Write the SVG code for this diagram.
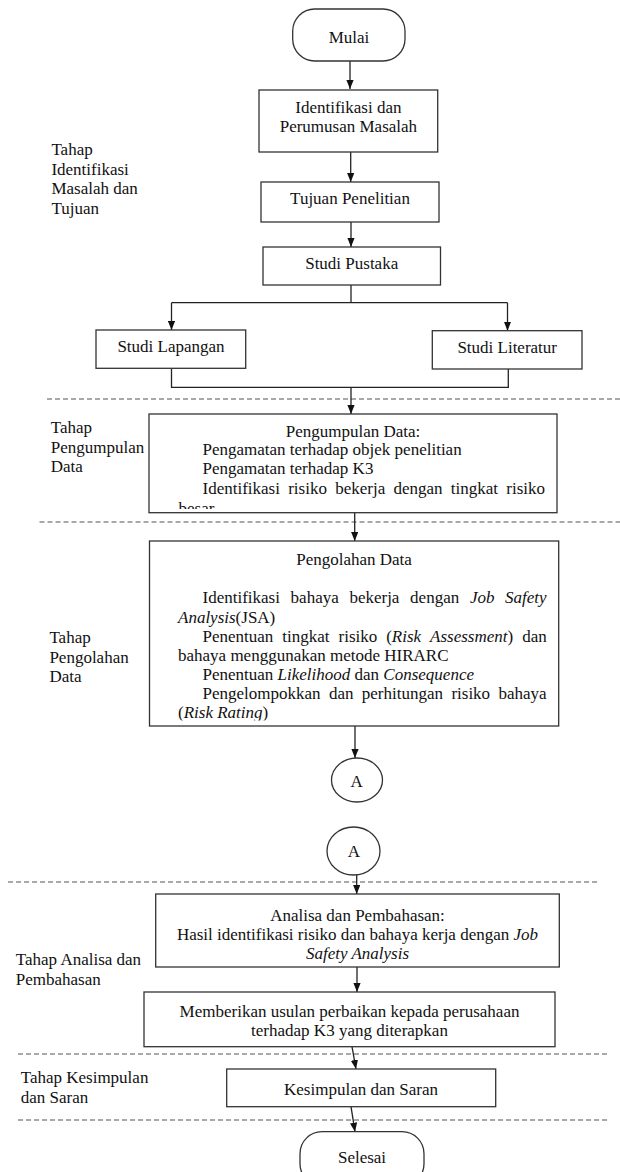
<svg xmlns="http://www.w3.org/2000/svg" width="620" height="1172" viewBox="0 0 620 1172">
<style>
  .bg{fill:#ffffff}
  .box{fill:#ffffff;stroke:#333333;stroke-width:1.3}
  .ln{fill:none;stroke:#222222;stroke-width:1.3}
  .dash{fill:none;stroke:#555555;stroke-width:1.2;stroke-dasharray:5 3}
  text{font-family:"Liberation Serif","Times New Roman",serif;font-size:17px;fill:#111111}
  .c{text-anchor:middle}
  .i{font-style:italic}
</style>
<defs>
  <marker id="arr" viewBox="0 0 10 8" refX="10" refY="4" markerWidth="9" markerHeight="7.2" markerUnits="userSpaceOnUse" orient="auto">
    <path d="M0,0 L10,4 L0,8 z" fill="#111111"/>
  </marker>
  <clipPath id="clipKumpul"><rect x="149" y="414" width="408" height="95"/></clipPath>
  <clipPath id="clipOlah"><rect x="150" y="541" width="408" height="179.5"/></clipPath>
</defs>
<rect class="bg" x="0" y="0" width="620" height="1172"/>

<g id="separators">
  <line class="dash" x1="47" y1="399" x2="620" y2="399"/>
  <line class="dash" x1="39.5" y1="522" x2="620" y2="522"/>
  <line class="dash" x1="8" y1="882" x2="600" y2="882"/>
  <line class="dash" x1="18" y1="1054" x2="608" y2="1054"/>
  <line class="dash" x1="18" y1="1120" x2="608" y2="1120"/>
</g>

<g id="stage-labels">
  <text x="51.4" y="155">Tahap</text>
  <text x="51.4" y="174.5">Identifikasi</text>
  <text x="51.4" y="194">Masalah dan</text>
  <text x="51.4" y="213.5">Tujuan</text>
  <text x="50.7" y="433">Tahap</text>
  <text x="50.7" y="452.5">Pengumpulan</text>
  <text x="50.7" y="472">Data</text>
  <text x="49.4" y="643">Tahap</text>
  <text x="49.4" y="662.5">Pengolahan</text>
  <text x="49.4" y="682">Data</text>
  <text x="15.8" y="965">Tahap Analisa dan</text>
  <text x="15.8" y="984.5">Pembahasan</text>
  <text x="20.7" y="1083.3">Tahap Kesimpulan</text>
  <text x="20.7" y="1102.7">dan Saran</text>
</g>

<g id="connectors">
  <line class="ln" x1="350" y1="61" x2="350" y2="89" marker-end="url(#arr)"/>
  <line class="ln" x1="350.7" y1="152" x2="350.7" y2="182" marker-end="url(#arr)"/>
  <line class="ln" x1="351" y1="222" x2="351" y2="247" marker-end="url(#arr)"/>
  <line class="ln" x1="351" y1="285" x2="351" y2="302.7"/>
  <line class="ln" x1="171.5" y1="302.7" x2="507.5" y2="302.7"/>
  <line class="ln" x1="171.5" y1="302.7" x2="171.5" y2="330" marker-end="url(#arr)"/>
  <line class="ln" x1="507.5" y1="302.7" x2="507.5" y2="330.7" marker-end="url(#arr)"/>
  <polyline class="ln" points="171.5,368.3 171.5,387.3 508.3,387.3 508.3,369"/>
  <line class="ln" x1="351" y1="387.3" x2="351" y2="414" marker-end="url(#arr)"/>
  <line class="ln" x1="354.7" y1="512.7" x2="354.7" y2="541" marker-end="url(#arr)"/>
  <line class="ln" x1="355" y1="726" x2="355" y2="758" marker-end="url(#arr)"/>
  <line class="ln" x1="356.7" y1="875" x2="356.7" y2="894" marker-end="url(#arr)"/>
  <line class="ln" x1="357" y1="967" x2="357" y2="992" marker-end="url(#arr)"/>
  <line class="ln" x1="352" y1="1046.7" x2="356" y2="1069" marker-end="url(#arr)"/>
  <line class="ln" x1="351" y1="1106.7" x2="355" y2="1131.7" marker-end="url(#arr)"/>
</g>

<g id="mulai">
  <rect class="box" x="292.7" y="9" width="112.3" height="52" rx="22" ry="22"/>
  <text class="c" x="349" y="42.7">Mulai</text>
</g>

<g id="identifikasi-perumusan">
  <rect class="box" x="259" y="90" width="178.7" height="62"/>
  <text class="c" x="348.4" y="112.7">Identifikasi dan</text>
  <text class="c" x="348.4" y="131.5">Perumusan Masalah</text>
</g>

<g id="tujuan-penelitian">
  <rect class="box" x="261" y="182" width="178" height="40"/>
  <text class="c" x="350" y="204">Tujuan Penelitian</text>
</g>

<g id="studi-pustaka">
  <rect class="box" x="263" y="247" width="177.5" height="38"/>
  <text class="c" x="351.7" y="269.3">Studi Pustaka</text>
</g>

<g id="studi-lapangan">
  <rect class="box" x="96" y="330" width="149.7" height="38.3"/>
  <text class="c" x="171" y="351.7">Studi Lapangan</text>
</g>

<g id="studi-literatur">
  <rect class="box" x="432.3" y="330.7" width="149.7" height="38.3"/>
  <text class="c" x="507.2" y="353">Studi Literatur</text>
</g>

<g id="pengumpulan-data">
  <rect class="box" x="149" y="414" width="408" height="98.7"/>
  <g clip-path="url(#clipKumpul)">
    <text class="c" x="353" y="436.7">Pengumpulan Data:</text>
    <text x="202.5" y="455">Pengamatan terhadap objek penelitian</text>
    <text x="202.5" y="474">Pengamatan terhadap K3</text>
    <text y="494"><tspan x="202.5">Identifikasi</tspan><tspan x="288.2">risiko</tspan><tspan x="335.2">bekerja</tspan><tspan x="393.5">dengan</tspan><tspan x="450.8">tingkat</tspan><tspan x="506.3">risiko</tspan></text>
    <text x="178.5" y="514">besar</text>
  </g>
</g>

<g id="pengolahan-data">
  <rect class="box" x="149.5" y="541" width="409.2" height="185"/>
  <g clip-path="url(#clipOlah)">
    <text class="c" x="354" y="565">Pengolahan Data</text>
    <text y="603.3"><tspan x="202.5">Identifikasi</tspan><tspan x="290.6">bahaya</tspan><tspan x="349.4">bekerja</tspan><tspan x="410.1">dengan</tspan><tspan class="i" x="469.9">Job</tspan><tspan class="i" x="505.1">Safety</tspan></text>
    <text x="178" y="622.7"><tspan class="i">Analysis</tspan>(JSA)</text>
    <text y="641.7"><tspan x="202.5">Penentuan</tspan><tspan x="282.3">tingkat</tspan><tspan x="338.5">risiko</tspan><tspan x="386.2">(</tspan><tspan class="i">Risk</tspan><tspan class="i" x="430.1">Assessment</tspan><tspan>)</tspan><tspan x="522.2">dan</tspan></text>
    <text x="178" y="660.7">bahaya menggunakan metode HIRARC</text>
    <text x="202.5" y="680">Penentuan <tspan class="i">Likelihood</tspan> dan <tspan class="i">Consequence</tspan></text>
    <text y="699"><tspan x="202.5">Pengelompokkan</tspan><tspan x="328.9">dan</tspan><tspan x="361.8">perhitungan</tspan><tspan x="451.4">risiko</tspan><tspan x="498.5">bahaya</tspan></text>
    <text x="178" y="717.7">(<tspan class="i">Risk Rating</tspan>)</text>
  </g>
</g>

<g id="connector-a-out">
  <ellipse class="box" cx="357" cy="780" rx="25.5" ry="22"/>
  <text class="c" x="356.7" y="786.7">A</text>
</g>

<g id="connector-a-in">
  <ellipse class="box" cx="353.5" cy="851" rx="26.5" ry="24"/>
  <text class="c" x="354" y="857">A</text>
</g>

<g id="analisa-pembahasan">
  <rect class="box" x="155.7" y="894" width="403.6" height="73"/>
  <text class="c" x="357.5" y="920.7">Analisa dan Pembahasan:</text>
  <text class="c" x="357.5" y="940">Hasil identifikasi risiko dan bahaya kerja dengan <tspan class="i">Job</tspan></text>
  <text class="c i" x="357.5" y="958.5">Safety Analysis</text>
</g>

<g id="usulan-perbaikan">
  <rect class="box" x="144" y="992" width="411" height="54.7"/>
  <text class="c" x="349.5" y="1016.7">Memberikan usulan perbaikan kepada perusahaan</text>
  <text class="c" x="349.5" y="1036">terhadap K3 yang diterapkan</text>
</g>

<g id="kesimpulan-saran">
  <rect class="box" x="226.7" y="1069" width="269" height="37.7"/>
  <text class="c" x="361" y="1095">Kesimpulan dan Saran</text>
</g>

<g id="selesai">
  <rect class="box" x="300" y="1131.7" width="124" height="54" rx="22" ry="22"/>
  <text class="c" x="362" y="1163.3">Selesai</text>
</g>
</svg>
